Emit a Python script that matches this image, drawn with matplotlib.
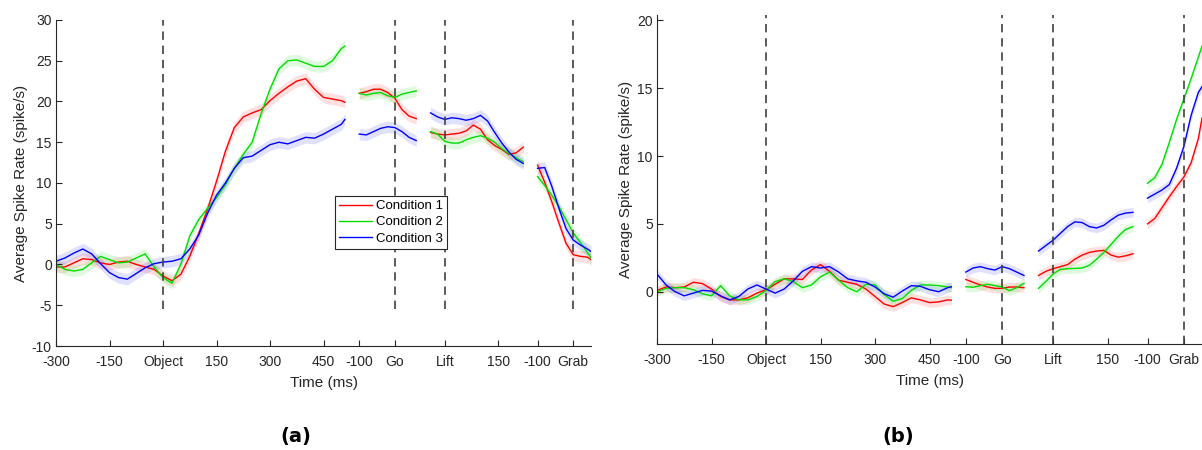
import matplotlib.pyplot as plt
import numpy as np

plt.rcParams['font.family'] = ['Liberation Sans', 'DejaVu Sans']
plt.rcParams['axes.unicode_minus'] = False
plt.rcParams['axes.edgecolor'] = '#262626'
plt.rcParams['xtick.color'] = '#262626'
plt.rcParams['ytick.color'] = '#262626'

# each epoch sits on one shared time axis, separated by 40 ms gaps
OBJECT_POS, GO_POS, LIFT_POS, GRAB_POS = 0, 650, 790, 1150

# time grids (ms relative to the aligning event)
t_object = np.array([-300, -275, -250, -225, -200, -175, -150, -125, -100, -75,
                     -50, -25, 0, 25, 50, 75, 100, 125, 150, 175, 200, 225, 250,
                     275, 300, 325, 350, 375, 400, 425, 450, 475, 500, 510])
t_go = np.array([-100, -80, -60, -40, -20, 0, 20, 40, 60])
t_lift = np.array([-40, -20, 0, 20, 40, 60, 80, 100, 120, 140, 160, 180, 200, 220])
t_grab = np.array([-100, -80, -60, -40, -20, 0, 20, 40, 50])

# (a) mean firing rate, spike/s
a_obj_c1 = [-0.3, -0.3, 0.2, 0.7, 0.6, 0.2, 0.0, 0.3, 0.4, 0.0, -0.3, -0.6, -1.4,
            -2.0, -1.2, 1.0, 3.8, 6.8, 10.2, 13.9, 16.8, 18.1, 18.6, 19.0, 20.1,
            21.0, 21.8, 22.5, 22.8, 21.5, 20.5, 20.3, 20.1, 19.9]
a_obj_c2 = [0.0, -0.6, -0.8, -0.6, 0.2, 1.0, 0.6, 0.2, 0.3, 0.8, 1.3, -0.3, -1.6,
            -2.3, 0.0, 3.5, 5.5, 6.9, 8.2, 9.8, 11.8, 13.5, 15.0, 18.5, 21.5, 24.0,
            25.0, 25.1, 24.7, 24.3, 24.3, 25.0, 26.5, 26.8]
a_obj_c3 = [0.4, 0.8, 1.4, 1.9, 1.3, 0.1, -1.0, -1.6, -1.8, -1.1, -0.4, 0.1, 0.3,
            0.4, 0.7, 1.9, 3.6, 6.3, 8.5, 10.0, 11.8, 13.1, 13.3, 14.0, 14.7, 15.0,
            14.8, 15.2, 15.6, 15.5, 16.0, 16.6, 17.2, 17.8]
a_go_c1 = [21.0, 21.2, 21.5, 21.5, 21.1, 20.4, 19.0, 18.2, 17.9]
a_go_c2 = [21.0, 20.8, 21.0, 21.1, 20.7, 20.5, 20.9, 21.1, 21.3]
a_go_c3 = [16.0, 15.9, 16.3, 16.7, 16.9, 16.8, 16.3, 15.6, 15.2]
a_lift_c1 = [16.2, 16.0, 15.9, 16.0, 16.1, 16.4, 17.1, 16.6, 15.3, 14.6, 14.1, 13.5, 13.7, 14.4]
a_lift_c2 = [16.3, 16.0, 15.1, 14.9, 14.9, 15.3, 15.6, 15.8, 15.5, 15.0, 14.2, 13.6, 13.1, 12.6]
a_lift_c3 = [18.6, 18.1, 17.8, 18.0, 17.9, 17.7, 17.9, 18.3, 17.6, 16.2, 14.9, 13.8, 12.9, 12.4]
a_grab_c1 = [12.2, 10.1, 7.7, 5.1, 2.6, 1.2, 1.0, 0.9, 0.6]
a_grab_c2 = [10.8, 9.7, 8.5, 7.1, 5.5, 3.9, 2.7, 1.5, 0.8]
a_grab_c3 = [11.8, 11.9, 9.6, 6.9, 4.4, 3.0, 2.4, 1.9, 1.6]

# (b) mean firing rate, spike/s
b_obj_c1 = [0.1, 0.35, 0.3, 0.35, 0.7, 0.6, 0.2, -0.35, -0.6, -0.6, -0.45, -0.1,
            0.15, 0.55, 0.95, 0.95, 0.9, 1.6, 2.0, 1.5, 0.85, 0.7, 0.55, 0.2, -0.35,
            -0.9, -1.1, -0.8, -0.45, -0.6, -0.8, -0.75, -0.6, -0.62]
b_obj_c2 = [0.0, 0.25, 0.3, 0.3, 0.15, -0.15, -0.3, 0.45, -0.3, -0.6, -0.6, -0.35,
            0.1, 0.75, 0.95, 0.75, 0.3, 0.5, 1.1, 1.45, 0.85, 0.3, 0.0, 0.55, 0.5,
            -0.2, -0.7, -0.5, 0.1, 0.5, 0.5, 0.45, 0.35, 0.3]
b_obj_c3 = [1.3, 0.5, 0.0, -0.3, -0.1, 0.1, 0.05, -0.3, -0.6, -0.35, 0.2, 0.5, 0.2,
            -0.1, 0.2, 0.8, 1.5, 1.85, 1.75, 1.85, 1.45, 0.95, 0.8, 0.7, 0.35, -0.15,
            -0.4, 0.05, 0.45, 0.4, 0.15, 0.0, 0.3, 0.37]
b_go_c1 = [0.9, 0.7, 0.5, 0.35, 0.25, 0.25, 0.35, 0.35, 0.3]
b_go_c2 = [0.37, 0.33, 0.45, 0.55, 0.45, 0.35, 0.08, 0.3, 0.62]
b_go_c3 = [1.45, 1.75, 1.85, 1.7, 1.6, 1.85, 1.7, 1.45, 1.2]
b_lift_c1 = [1.2, 1.5, 1.7, 1.85, 2.0, 2.4, 2.7, 2.9, 3.0, 3.05, 2.7, 2.55, 2.65, 2.8]
b_lift_c2 = [0.25, 0.75, 1.3, 1.65, 1.7, 1.72, 1.75, 1.95, 2.4, 2.9, 3.5, 4.1, 4.6, 4.8]
b_lift_c3 = [3.0, 3.4, 3.8, 4.3, 4.8, 5.15, 5.1, 4.8, 4.7, 4.9, 5.3, 5.65, 5.8, 5.85]
b_grab_c1 = [5.0, 5.4, 6.2, 7.0, 7.75, 8.45, 9.5, 11.3, 12.8]
b_grab_c2 = [8.0, 8.4, 9.4, 11.0, 12.7, 14.2, 15.7, 17.3, 18.1]
b_grab_c3 = [6.9, 7.2, 7.5, 7.9, 9.1, 10.7, 13.0, 14.7, 15.1]

# standard error used for the shaded bands
sem_a = 0.7
sem_b = 0.35

labels = ['Condition 1', 'Condition 2', 'Condition 3']
colors = ['#ff0000', '#00dd00', '#0000ff']

tick_pos = [-300, -150, OBJECT_POS, 150, 300, 450, GO_POS - 100, GO_POS, LIFT_POS,
            LIFT_POS + 150, GRAB_POS - 100, GRAB_POS]
tick_labels = ['-300', '-150', 'Object', '150', '300', '450', '-100', 'Go', 'Lift',
               '150', '-100', 'Grab']


def draw_panel(ax, epochs, sem, ylim, yticks, dash_ymin):
    handles = []
    for times, offset, series in epochs:
        x = times + offset
        for i, (vals, col) in enumerate(zip(series, colors)):
            vals = np.asarray(vals)
            ax.fill_between(x, vals - sem, vals + sem, color=col, alpha=0.12,
                            linewidth=0)
            (ln,) = ax.plot(x, vals, color=col, lw=1.0, label=labels[i])
            if offset == OBJECT_POS:
                handles.append(ln)
    for pos in [OBJECT_POS, GO_POS, LIFT_POS, GRAB_POS]:
        ax.plot([pos, pos], [dash_ymin, ylim[1]], color='#404040', lw=1.2,
                linestyle=(0, (5, 3.5)))
    ax.set_xlim(-300, 1200)
    ax.set_ylim(*ylim)
    ax.set_yticks(yticks)
    ax.set_xticks(tick_pos)
    ax.set_xticklabels(tick_labels)
    ax.tick_params(direction='in', length=4, labelsize=10, pad=3)
    ax.tick_params(axis='x', pad=6.5)
    ax.spines['top'].set_visible(False)
    ax.spines['right'].set_visible(False)
    ax.set_xlabel('Time (ms)', fontsize=11, color='#262626', labelpad=5)
    ax.set_ylabel('Average Spike Rate (spike/s)', fontsize=11, color='#262626',
                  labelpad=3)
    return handles


fig = plt.figure(figsize=(12.02, 4.5), dpi=100)
ax_a = fig.add_axes([0.0466, 0.2311, 0.4451, 0.7245])
ax_b = fig.add_axes([0.5466, 0.2356, 0.4534, 0.7311])

epochs_a = [
    (t_object, OBJECT_POS, [a_obj_c1, a_obj_c2, a_obj_c3]),
    (t_go, GO_POS, [a_go_c1, a_go_c2, a_go_c3]),
    (t_lift, LIFT_POS, [a_lift_c1, a_lift_c2, a_lift_c3]),
    (t_grab, GRAB_POS, [a_grab_c1, a_grab_c2, a_grab_c3]),
]
epochs_b = [
    (t_object, OBJECT_POS, [b_obj_c1, b_obj_c2, b_obj_c3]),
    (t_go, GO_POS, [b_go_c1, b_go_c2, b_go_c3]),
    (t_lift, LIFT_POS, [b_lift_c1, b_lift_c2, b_lift_c3]),
    (t_grab, GRAB_POS, [b_grab_c1, b_grab_c2, b_grab_c3]),
]

handles = draw_panel(ax_a, epochs_a, sem_a, (-10, 30), range(-10, 31, 5), -5.4)
draw_panel(ax_b, epochs_b, sem_b, (-3.85, 20.4), range(0, 21, 5), -3.85)

leg = ax_a.legend(handles=handles, loc='upper left', bbox_to_anchor=(0.5215, 0.46),
                  borderaxespad=0, fontsize=9.5, handlelength=2.5,
                  handletextpad=0.3, labelspacing=0.3, borderpad=0.3,
                  fancybox=False, framealpha=1, edgecolor='#262626')
leg.get_frame().set_linewidth(0.8)

fig.text(0.246, 0.029, '(a)', fontsize=14, fontweight='bold', ha='center',
         va='center', family=['DejaVu Sans'])
fig.text(0.747, 0.029, '(b)', fontsize=14, fontweight='bold', ha='center',
         va='center', family=['DejaVu Sans'])

fig.savefig('out.png', dpi=100)
